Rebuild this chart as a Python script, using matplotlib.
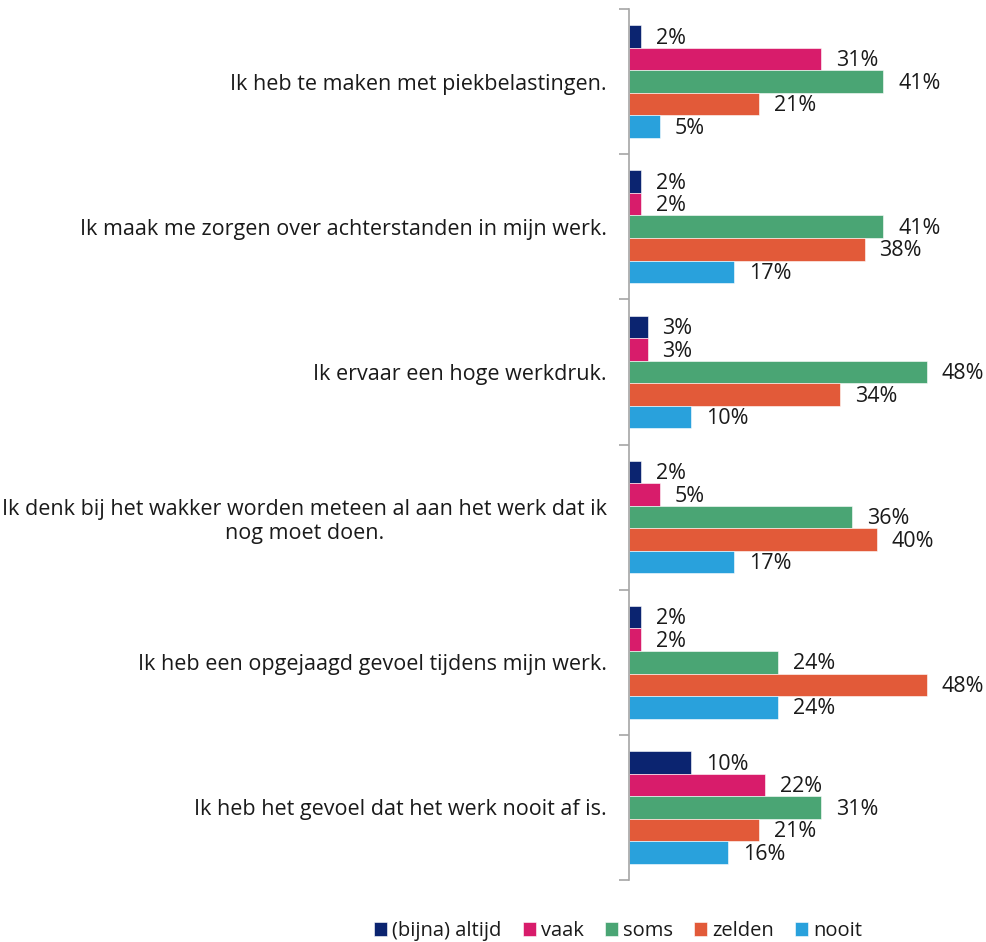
import matplotlib
matplotlib.use("Agg")
import matplotlib.pyplot as plt
import numpy as np

plt.rcParams['font.family'] = ['Open Sans', 'DejaVu Sans']

statements = [
    "Ik heb te maken met piekbelastingen.",
    "Ik maak me zorgen over achterstanden in mijn werk.",
    "Ik ervaar een hoge werkdruk.",
    "Ik denk bij het wakker worden meteen al aan het werk dat ik\nnog moet doen.",
    "Ik heb een opgejaagd gevoel tijdens mijn werk.",
    "Ik heb het gevoel dat het werk nooit af is.",
]
series = ["(bijna) altijd", "vaak", "soms", "zelden", "nooit"]
altijd = [2, 2, 3, 2, 2, 10]
vaak = [31, 2, 3, 5, 2, 22]
soms = [41, 41, 48, 36, 24, 31]
zelden = [21, 38, 34, 40, 48, 21]
nooit = [5, 17, 10, 17, 24, 16]
colors = ["#0b2470", "#d81c6b", "#4aa574", "#e25a39", "#29a1dc"]

W, H = 986, 942
fig = plt.figure(figsize=(W / 100, H / 100), dpi=100)
# axes placed in pixel terms: left at 629, top 9, bottom 880
ax = fig.add_axes([629 / W, 1 - 880 / H, 341 / W, 871 / H])

n = len(statements)
bar_h = 0.155
y = np.arange(n)
for i, (vals, col, name) in enumerate(zip([altijd, vaak, soms, zelden, nooit], colors, series)):
    pos = y + (i - 2) * bar_h
    bars = ax.barh(pos, vals, height=bar_h, color=col, label=name, edgecolor='white', linewidth=0.4)
    for b, v in zip(bars, vals):
        ax.text(b.get_width() + 2.4, b.get_y() + b.get_height() / 2 + 0.012, f"{v}%",
                va='center', ha='left', fontsize=15.5, color='#1a1a1a')

ax.set_xlim(0, 55)
ax.set_ylim(n - 0.5, -0.5)
ax.set_yticks(y)
ax.set_yticklabels(statements, fontsize=15.5, color='#1a1a1a')
for lab in ax.get_yticklabels():
    lab.set_multialignment('center')
ax.tick_params(axis='y', length=0, pad=16)
ax.set_yticks(np.arange(n + 1) - 0.5, minor=True)
ax.tick_params(axis='y', which='minor', length=7, color='#a6a6a6', width=1.2)
ax.set_xticks([])
for s in ['top', 'right', 'bottom']:
    ax.spines[s].set_visible(False)
ax.spines['left'].set_color('#a6a6a6')
ax.spines['left'].set_linewidth(1.2)

handles, labels = ax.get_legend_handles_labels()
fig.legend(handles, labels, loc='center', bbox_to_anchor=(618 / W, 1 - 931 / H), ncol=5,
           frameon=False, fontsize=14.5, handlelength=0.65, handleheight=0.65,
           handletextpad=0.25, columnspacing=1.05, labelcolor='#1a1a1a')

fig.savefig("out.png", dpi=100)
